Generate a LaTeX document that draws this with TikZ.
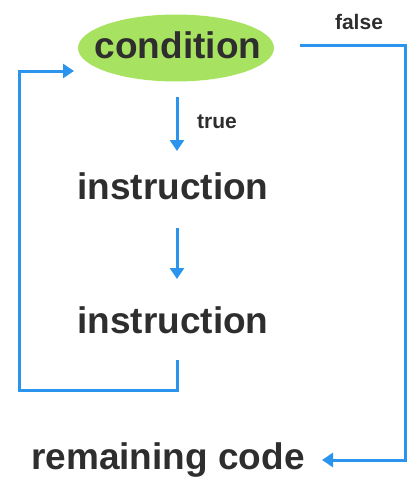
\documentclass[tikz,border=0pt]{standalone}
\usepackage{fontspec}
\setmainfont{Liberation Sans}
\usetikzlibrary{arrows.meta,shapes.geometric}
\definecolor{flowblue}{HTML}{2B95EE}
\definecolor{condgreen}{HTML}{A8E261}
\definecolor{txt}{HTML}{2E2E2E}
\tikzset{
  flow/.style={draw=flowblue, line width=3pt},
  tip/.style={-{Triangle[width=14pt,length=11pt]}},
  bigtext/.style={text=txt, font=\fontsize{37}{42}\selectfont\bfseries, inner sep=0pt},
  smalltext/.style={text=txt, font=\fontsize{21}{25}\selectfont\bfseries, inner sep=0pt},
}
\begin{document}
\begin{tikzpicture}[x=1pt,y=-1pt]
  \useasboundingbox (0,0) rectangle (408,479);
  % decision
  \node[ellipse, fill=condgreen, minimum width=196pt, minimum height=67pt, inner sep=0pt] (cond) at (176,48) {};
  \node[bigtext] (condt) at (178,45) {condition};
  % instructions and exit
  \node[bigtext] (ins1) at (173,186) {instruction};
  \node[bigtext] (ins2) at (173,320) {instruction};
  \node[bigtext] (rem) at (168,460) {remaining code};
  % labels
  \node[smalltext] (tl) at (217,122) {true};
  \node[smalltext] (fl) at (359,22) {false};
  % connector anchors
  \coordinate (t1) at (177,97);
  \coordinate (h1) at (177,151);
  \coordinate (t2) at (177,228);
  \coordinate (h2) at (177,279);
  \coordinate (ls) at (177,360);
  \coordinate (lb) at (19,390);
  \coordinate (le) at (74,71);
  \coordinate (fs) at (300,45);
  \coordinate (fr) at (405,460);
  \coordinate (fe) at (322,460);
  % connectors
  \draw[flow, tip] (t1) -- (h1);
  \draw[flow, tip] (t2) -- (h2);
  \draw[flow, tip] (ls) |- (lb) |- (le);
  \draw[flow, tip] (fs) -| (fr) -- (fe);
\end{tikzpicture}
\end{document}
